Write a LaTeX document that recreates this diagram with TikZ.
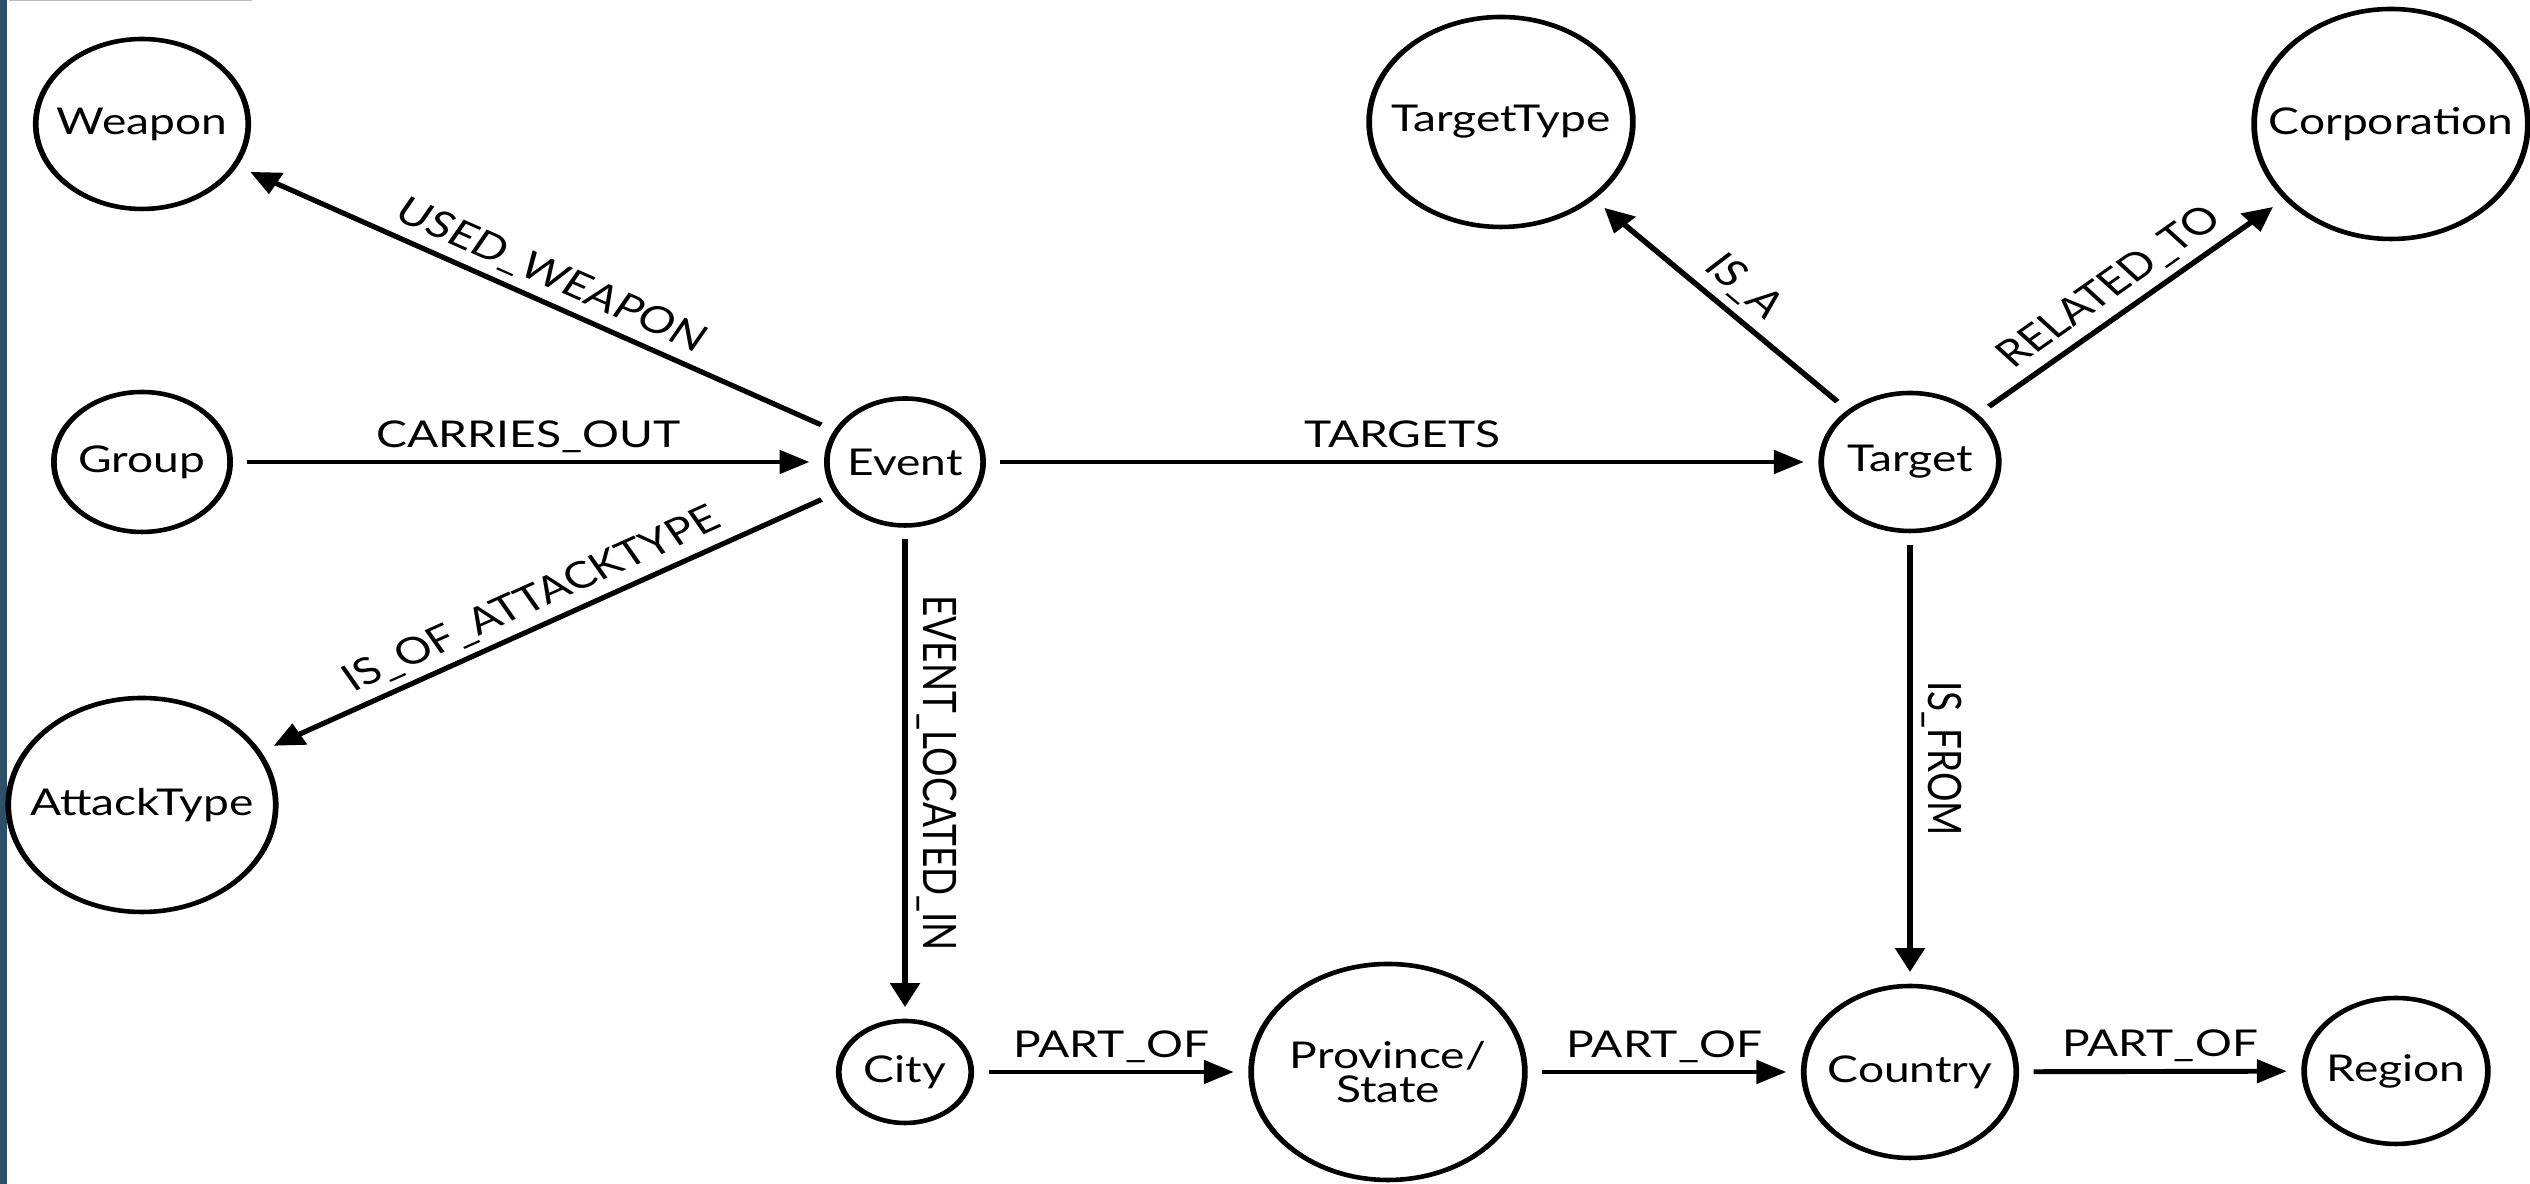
\documentclass[tikz,border=0pt]{standalone}
\usepackage{fontspec}
\setmainfont{Lato}
\usetikzlibrary{shapes.geometric,arrows.meta}
\definecolor{stripblue}{HTML}{2D5068}

\begin{document}
\begin{tikzpicture}[
	ent/.style={ellipse, draw, line width=1.3pt, inner xsep=-0.3cm, inner ysep=0pt, align=center, font=\fontsize{10.5}{9.5}\selectfont},
	rel/.style={-{Triangle[length=0.24cm,width=0.23cm]}, line width=1.4pt, shorten <=3.3pt, shorten >=3.3pt},
	lbl/.style={sloped, above, inner sep=3.5pt, text depth=0pt, font=\fontsize{10.5}{12}\selectfont}]
	\useasboundingbox (0,0) rectangle (25.30,11.84);
	\fill[white] (0,0) rectangle (25.30,11.84);
	\fill[stripblue] (0,0) rectangle (0.07,11.84);
	\fill[gray!55] (0.09,11.83) rectangle (2.52,11.84);

	\begin{scope}[x=0.8cm, transform canvas={xscale=1.25}]
	\node[ent, minimum width=1.70cm, minimum height=1.70cm] (weapon) at (1.42,10.60) {Weapon};
	\node[ent, minimum width=1.41cm, minimum height=1.40cm] (group) at (1.42,7.22) {Group};
	\node[ent, minimum width=2.14cm, minimum height=2.14cm] (attack) at (1.42,3.79) {AttackType};
	\node[ent, minimum width=1.25cm, minimum height=1.27cm] (event) at (9.05,7.22) {Event};
	\node[ent, minimum width=2.11cm, minimum height=2.10cm] (ttype) at (15.01,10.62) {TargetType};
	\node[ent, minimum width=2.19cm, minimum height=2.30cm] (corp) at (23.91,10.60) {Corporation};
	\node[ent, minimum width=1.42cm, minimum height=1.38cm] (target) at (19.10,7.22) {Target};
	\node[ent, minimum width=1.06cm, minimum height=1.02cm] (city) at (9.05,1.12) {City};
	\node[ent, minimum width=2.19cm, minimum height=2.16cm] (prov) at (13.88,1.12) {Province/\\State};
	\node[ent, minimum width=1.70cm, minimum height=1.72cm] (country) at (19.10,1.12) {Country};
	\node[ent, minimum width=1.47cm, minimum height=1.46cm] (region) at (23.96,1.13) {Region};

	\draw[rel] (event) -- node[lbl] {USED\_WEAPON} (weapon);
	\draw[rel] (group) -- node[lbl] {CARRIES\_OUT} (event);
	\draw[rel] (event) -- node[lbl] {IS\_OF\_ATTACKTYPE} (attack);
	\draw[rel] (event) -- node[lbl] {TARGETS} (target);
	\draw[rel] (event) -- node[lbl] {EVENT\_LOCATED\_IN} (city);
	\draw[rel] (target) -- node[lbl] {IS\_A} (ttype);
	\draw[rel] (target) -- node[lbl] {RELATED\_TO} (corp);
	\draw[rel] (target) -- node[lbl] {IS\_FROM} (country);
	\draw[rel] (city) -- node[lbl] {PART\_OF} (prov);
	\draw[rel] (prov) -- node[lbl] {PART\_OF} (country);
	\draw[rel] (country) -- node[lbl] {PART\_OF} (region);
	\end{scope}
\end{tikzpicture}
\end{document}
